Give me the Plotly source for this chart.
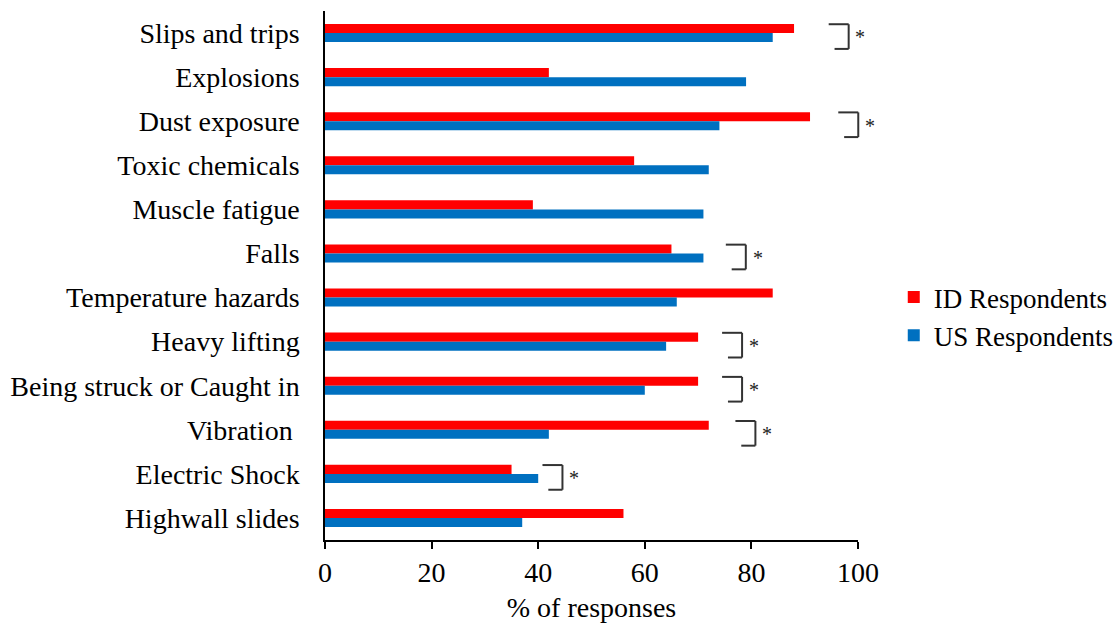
import plotly.graph_objects as go

# Hazard categories, listed top to bottom
categories = [
    "Slips and trips", "Explosions", "Dust exposure", "Toxic chemicals",
    "Muscle fatigue", "Falls", "Temperature hazards", "Heavy lifting",
    "Being struck or Caught in", "Vibration\u00a0", "Electric Shock",
    "Highwall slides",
]
id_respondents = [88, 42, 91, 58, 39, 65, 84, 70, 70, 72, 35, 56]
us_respondents = [84, 79, 74, 72, 71, 71, 66, 64, 60, 42, 40, 37]

# Significant differences: category and left edge of the bracket (in % units)
sig_categories = ["Slips and trips", "Dust exposure", "Falls", "Heavy lifting",
                  "Being struck or Caught in", "Vibration\u00a0", "Electric Shock"]
sig_bracket_left = [94.5, 96.3, 75.2, 74.5, 74.5, 77.0, 40.8]

FONT = "Liberation Serif"
RED = "#FF0000"
BLUE = "#0070C0"
X_MAX = 100
Y_TOP, Y_BOT = -0.5, len(categories) - 0.5


def px(v):
    """x value in % -> paper fraction (so marks past 100 are not clipped)."""
    return v / X_MAX


def py(v):
    """category index -> paper fraction on the reversed category axis."""
    return (Y_BOT - v) / (Y_BOT - Y_TOP)


fig = go.Figure()
fig.add_trace(go.Bar(name="ID Respondents", y=categories, x=id_respondents,
                     orientation="h", marker=dict(color=RED, line=dict(width=0))))
fig.add_trace(go.Bar(name="US Respondents", y=categories, x=us_respondents,
                     orientation="h", marker=dict(color=BLUE, line=dict(width=0))))

# Brackets with asterisks marking significant differences
bw = 3.75
line_style = dict(color="#333333", width=2)
for cat, left in zip(sig_categories, sig_bracket_left):
    i = categories.index(cat)
    top, bot = py(i - 0.2), py(i + 0.36)
    right = px(left + bw)
    fig.add_shape(type="line", xref="paper", yref="paper",
                  x0=px(left), x1=right, y0=top, y1=top, line=line_style)
    fig.add_shape(type="line", xref="paper", yref="paper",
                  x0=right, x1=right, y0=top, y1=bot, line=line_style)
    fig.add_shape(type="line", xref="paper", yref="paper",
                  x0=px(left + 1.1), x1=right, y0=bot, y1=bot, line=line_style)
    fig.add_annotation(x=px(left + bw + 2.2), y=py(i + 0.1), xref="paper", yref="paper",
                       xanchor="center", yanchor="middle",
                       text="*", showarrow=False,
                       font=dict(family=FONT, size=20, color="#222222"))

fig.update_layout(
    width=1120, height=623,
    margin=dict(l=325, r=262, t=11, b=83),
    paper_bgcolor="white", plot_bgcolor="white",
    barmode="group", bargap=0.59, bargroupgap=0,
    font=dict(family=FONT, size=28, color="black"),
    showlegend=True,
    legend=dict(xref="container", yref="container", x=0.798, y=0.492,
                xanchor="left", yanchor="middle",
                font=dict(family=FONT, size=27, color="black"),
                bgcolor="rgba(0,0,0,0)", tracegroupgap=0, itemwidth=30),
    xaxis=dict(range=[0, X_MAX], dtick=20, showgrid=False, zeroline=False,
               automargin=False,
               showline=True, linecolor="black", linewidth=1.5,
               ticks="outside", ticklen=7, tickwidth=1.5, tickcolor="black",
               tickfont=dict(family=FONT, size=28, color="black"),
               title=dict(text="% of responses", font=dict(family=FONT, size=28, color="black"),
                          standoff=10)),
    yaxis=dict(type="category", categoryorder="array", categoryarray=categories,
               range=[Y_BOT, Y_TOP], showgrid=False, zeroline=False,
               automargin=False,
               showline=True, linecolor="black", linewidth=1.5, ticks="",
               ticklabelstandoff=18,
               tickfont=dict(family=FONT, size=28, color="black")),
)

fig.write_html("out.html")
